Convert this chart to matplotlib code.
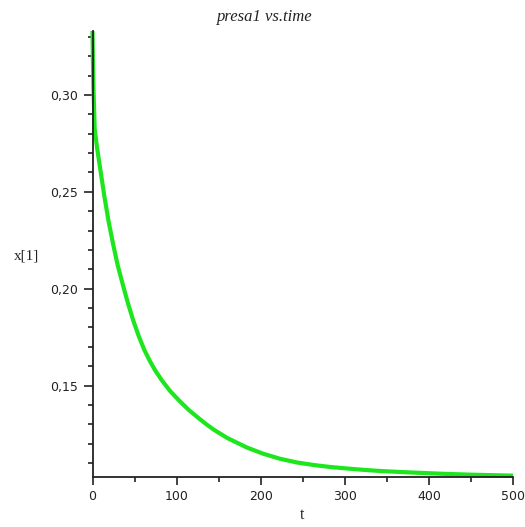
import numpy as np
import matplotlib
matplotlib.use("Agg")
import matplotlib.pyplot as plt
from matplotlib.ticker import MultipleLocator, FuncFormatter

# values
t = [0, 0.6, 1.2, 2.6, 5.5, 9.75, 14, 19.3, 25, 30, 36.3, 42, 48.5, 55,
     61.5, 68.4, 75, 82.3, 92, 104, 115, 127.8, 136, 144, 160, 183.7,
     203, 223, 243, 262.8, 282, 302.5, 322, 342, 370, 397, 420, 450, 470, 500]
x1 = [0.333, 0.315, 0.303, 0.2824, 0.2725, 0.2602, 0.2480, 0.2343, 0.2220,
      0.2120, 0.2017, 0.1927, 0.1835, 0.1755, 0.1685, 0.1625, 0.1575, 0.1528,
      0.1473, 0.1418, 0.1372, 0.1326, 0.1298, 0.1273, 0.1230, 0.1180, 0.1148,
      0.1122, 0.1103, 0.1090, 0.1080, 0.1072, 0.1065, 0.1059, 0.1053, 0.1048,
      0.1044, 0.1040, 0.1038, 0.1035]

title = "presa1 vs.time"
xlabel = "t"
ylabel = "x[1]"

fig = plt.figure(figsize=(5.25, 5.27), dpi=100)
ax = fig.add_axes([92.5 / 525, 1 - 477 / 527, (513 - 92.5) / 525, (477 - 31) / 527])

ax.plot(t, x1, color="#1ee61e", linewidth=3.0, solid_capstyle="butt",
        solid_joinstyle="round", clip_on=False)

ax.set_xlim(0, 500)
ax.set_ylim(0.1028, 0.333)

for side in ("top", "right"):
    ax.spines[side].set_visible(False)
for side in ("left", "bottom"):
    ax.spines[side].set_linewidth(1.3)
    ax.spines[side].set_color("#222222")

ax.xaxis.set_major_locator(MultipleLocator(100))
ax.xaxis.set_minor_locator(MultipleLocator(50))
ax.yaxis.set_major_locator(MultipleLocator(0.05))
ax.yaxis.set_minor_locator(MultipleLocator(0.01))
ax.yaxis.set_major_formatter(FuncFormatter(lambda v, p: f"{v:.2f}".replace(".", ",")))

ax.tick_params(axis="both", which="major", direction="out", width=1.2,
               color="#222222", labelsize=9, labelcolor="#222222")
ax.tick_params(axis="x", which="major", length=6, pad=3)
ax.tick_params(axis="y", which="major", length=6.5, pad=4)
ax.tick_params(axis="both", which="minor", direction="out", length=3.5,
               width=1.2, color="#222222")

serif = ["Liberation Serif", "DejaVu Serif"]
fig.text(0.505, 1 - 17 / 527, title, ha="center", va="center",
         fontsize=12, style="italic", family=serif, color="#222222")
fig.text(302.5 / 525, 1 - 515 / 527, xlabel, ha="center", va="center",
         fontsize=11.5, family=serif, color="#222222")
fig.text(26 / 525, 1 - 256 / 527, ylabel, ha="center", va="center",
         fontsize=11, family=serif, color="#222222")

fig.savefig("out.png", dpi=100)
